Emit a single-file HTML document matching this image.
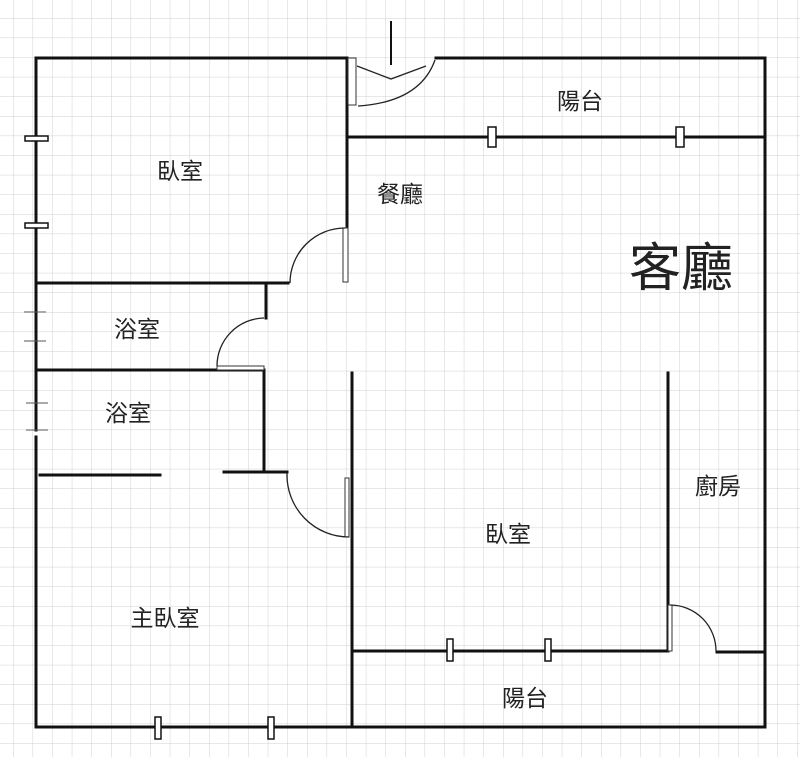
<!DOCTYPE html>
<html><head><meta charset="utf-8"><style>
html,body{margin:0;padding:0;background:#fff}
svg{display:block}
text{font-family:"Liberation Sans","Noto Sans CJK TC",sans-serif;fill:#222}
</style></head><body>
<svg width="800" height="757" viewBox="0 0 800 757" xmlns="http://www.w3.org/2000/svg">
<defs>
<pattern id="g" x="13" y="18" width="19.6" height="19.6" patternUnits="userSpaceOnUse">
<path d="M0 0H19.6M0 0V19.6" stroke="#cfcfcf" stroke-width="1" fill="none"/>
</pattern>
</defs>
<rect width="800" height="757" fill="#fff"/>
<rect width="800" height="757" fill="url(#g)"/>
<g stroke="#111" stroke-width="3" fill="none" stroke-linecap="square">
<path d="M436 58H765V727H36V437M36 430V58H347"/>
<path d="M391 22V64" stroke-width="2"/>
<path d="M348 137H765"/>
<path d="M347 58V228"/>
<path d="M36 283H288"/>
<path d="M266 283V318"/>
<path d="M36 370H264"/>
<path d="M264 370V470"/>
<path d="M224 472H287"/>
<path d="M40 475H160"/>
<path d="M352 373V727"/>
<path d="M668 373V650"/>
<path d="M352 651H668"/>
<path d="M717 652H765"/>
</g>
<g stroke="#555" stroke-width="1">
<path d="M24 312H46M24 341H46M26 403H48M26 430H48"/>
</g>
<g fill="#fff" stroke="#111" stroke-width="1.5">
<rect x="25" y="136" width="23" height="5"/>
<rect x="25" y="223" width="23" height="5"/>
<rect x="488" y="127" width="8" height="20"/>
<rect x="676" y="127" width="8" height="20"/>
<rect x="447" y="639" width="6" height="22"/>
<rect x="545" y="639" width="6" height="22"/>
<rect x="155" y="717" width="6" height="22"/>
<rect x="268" y="717" width="6" height="22"/>
</g>
<g fill="#fff" stroke="#333" stroke-width="1">
<rect x="348" y="58" width="8" height="47"/>
<rect x="343" y="228" width="5" height="54"/>
<rect x="217" y="366" width="47" height="4"/>
<rect x="345" y="478" width="4" height="59"/>
<rect x="668" y="605" width="4" height="46"/>
</g>
<g stroke="#222" stroke-width="1.3" fill="none">
<path d="M358 106 Q420 102 435 60"/>
<path d="M357 66 L391 79 L426 66"/>
<path d="M345 228 A55 55 0 0 0 290 283"/>
<path d="M264 318 A48 48 0 0 0 217 366"/>
<path d="M287 473 A62 62 0 0 0 349 537"/>
<path d="M670 605 A46 46 0 0 1 716 651"/>
</g>
<g font-size="23">
<text x="180" y="179" text-anchor="middle">臥室</text>
<text x="400" y="202" text-anchor="middle">餐廳</text>
<text x="580" y="109" text-anchor="middle">陽台</text>
<text x="137" y="337" text-anchor="middle">浴室</text>
<text x="128" y="421" text-anchor="middle">浴室</text>
<text x="718" y="494" text-anchor="middle">廚房</text>
<text x="508" y="542" text-anchor="middle">臥室</text>
<text x="165" y="626" text-anchor="middle">主臥室</text>
<text x="525" y="706" text-anchor="middle">陽台</text>
</g>
<text x="681" y="286" font-size="52" text-anchor="middle">客廳</text>
</svg>
</body></html>
